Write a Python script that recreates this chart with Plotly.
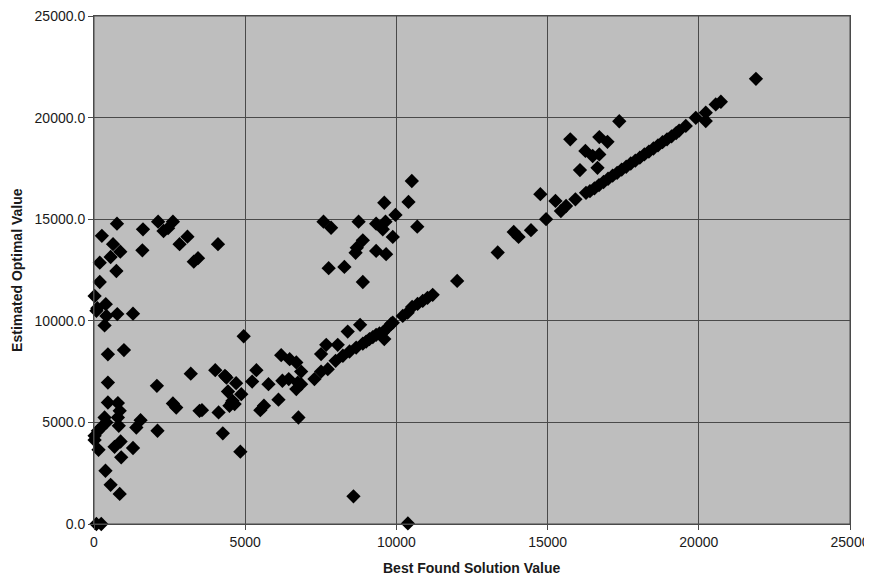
import plotly.graph_objects as go

# Best found solution value (x) and estimated optimal value (y)
best_found = [
    260, 760, 190, 550, 630, 870, 740, 190, 20, 80, 110, 390, 410, 770, 1290, 350, 460, 990, 460,
    1620, 1600, 2120, 2300, 2450, 2610, 2830, 3090, 3300, 3440, 4100, 4950, 3200, 4010, 2080,
    4380, 4700, 4430, 4870, 4560, 4480, 2610, 2720, 3490, 4120, 460, 790, 850, 790, 350, 410,
    820, 240, 130, 20, 20, 1540, 1400, 2100, 4260, 150, 880, 680, 1290, 900, 4840, 380, 550,
    850, 80, 240,
    4330, 5370, 5230, 4580, 4650, 3570, 6190, 6470, 6690, 6850, 6230, 6440, 6740, 6850, 6690,
    5770, 6100, 5620, 5500, 6760, 7290, 7510, 7730, 7990, 7510, 7680, 8060, 8390, 8800, 9600,
    8230, 8450, 8670, 8890, 9110, 9330, 9550, 9000, 9220, 9440, 9700, 9830, 9880, 10210, 10370,
    10520, 10700, 10870, 11030, 11200,
    10510, 9600, 10400, 9970, 7590, 7840, 8750, 9330, 9640, 9550, 9880, 10690, 8890, 8690,
    8650, 9330, 9660, 7760, 8280, 8890,
    8580, 10380,
    12010, 13350, 13880, 14040, 14450, 14950, 14760, 15260, 15440, 15610, 15920, 16270,
    15750, 16250, 16490, 16710, 16650, 16070, 16710, 16980, 17370,
    16400, 16550, 16700, 16850, 17000, 17150, 17300, 17450, 17600, 17750, 17900, 18050, 18200,
    18350, 18500, 18650, 18800, 18950, 19100, 19250, 19350, 19570, 19900, 20230, 20230, 20560,
    20730, 21890,
]
estimated_optimal = [
    14180, 14780, 12860, 13140, 13770, 13400, 12450, 11910, 11220, 10490, 10620, 10820, 10240,
    10330, 10350, 9770, 8350, 8560, 6960,
    14500, 13470, 14880, 14420, 14560, 14880, 13770, 14140, 12910, 13080, 13770, 9240, 7400,
    7570, 6800,
    7210, 6930, 6520, 6390, 5980, 5820, 5930, 5730, 5570, 5490, 5980, 5950, 5570, 5240, 5240,
    5000, 4830, 4750, 4590, 4340, 4130, 5110, 4750, 4590, 4460, 3650, 4060, 3800, 3740, 3280,
    3560, 2620, 1930, 1480, 0, 0,
    7290, 7570, 7010, 6060, 5900, 5600, 8310, 8110, 7950, 7500, 7050, 7130, 6960, 6880, 6640,
    6880, 6120, 5820, 5600, 5240, 7130, 7500, 7620, 8030, 8360, 8820, 8820, 9470, 9800, 9100,
    8280, 8490, 8680, 8880, 9100, 9310, 9420, 8980, 9200, 9380, 9650, 9860, 9910, 10240, 10400,
    10680, 10830, 10980, 11130, 11280,
    16880, 15810, 15850, 15210, 14880, 14580, 14880, 14780, 14880, 14500, 14130, 14630, 13960,
    13600, 13350, 13440, 13280, 12590, 12650, 11910,
    1360, 30,
    11960, 13360, 14370, 14130, 14460, 15000, 16230, 15900, 15400, 15650, 15980, 16300,
    18930, 18360, 18110, 18190, 17530, 17420, 19040, 18810, 19820,
    16380, 16520, 16680, 16830, 16990, 17140, 17280, 17440, 17580, 17740, 17880, 18030, 18190,
    18330, 18480, 18630, 18790, 18930, 19080, 19240, 19360, 19590, 19990, 20240, 19830, 20650,
    20780, 21910,
]

x_ticks = [0, 5000, 10000, 15000, 20000, 25000]
y_ticks = [0, 5000, 10000, 15000, 20000, 25000]

FONT = "Liberation Sans, Arial, sans-serif"

fig = go.Figure()
fig.add_trace(go.Scatter(
    x=best_found, y=estimated_optimal, mode="markers",
    marker=dict(symbol="diamond", size=11, color="black", line=dict(width=0)),
    cliponaxis=False, showlegend=False,
))

axis_common = dict(
    showgrid=True, gridcolor="#4a4a4a", gridwidth=1,
    showline=True, linecolor="#4a4a4a", linewidth=1, mirror=True,
    ticks="outside", ticklen=5, tickcolor="#4a4a4a",
    zeroline=False, automargin=False, ticklabeloverflow="allow",
    tickfont=dict(family=FONT, size=14, color="#1a1a1a"),
)

fig.update_xaxes(range=[0, 25000], tickvals=x_ticks, ticktext=[str(v) for v in x_ticks],
                 **axis_common)
fig.update_yaxes(range=[0, 25000], tickvals=y_ticks, ticktext=[f"{v:.1f}" for v in y_ticks],
                 **axis_common)

# the page body has an 8px default margin, so the figure is offset by 8px
fig.update_layout(
    width=864, height=567,
    margin=dict(l=86, r=22, t=8, b=51, autoexpand=False),
    paper_bgcolor="white", plot_bgcolor="#bebebe",
    font=dict(family=FONT, color="#1a1a1a"),
    shapes=[
        dict(type="rect", xref="paper", yref="paper", x0=0, x1=1, y0=0, y1=1,
             line=dict(color="#4a4a4a", width=1), fillcolor="rgba(0,0,0,0)", layer="above"),
    ],
    annotations=[
        dict(text="<b>Best Found Solution Value</b>", xref="paper", yref="paper",
             x=0.5, y=-0.086, xanchor="center", yanchor="middle", showarrow=False,
             font=dict(family=FONT, size=14, color="#1a1a1a")),
        dict(text="<b>Estimated Optimal Value</b>", xref="paper", yref="paper",
             x=-0.102, y=0.5, xanchor="center", yanchor="middle", textangle=-90,
             showarrow=False, font=dict(family=FONT, size=14, color="#1a1a1a")),
    ],
)

fig.write_html("out.html")
